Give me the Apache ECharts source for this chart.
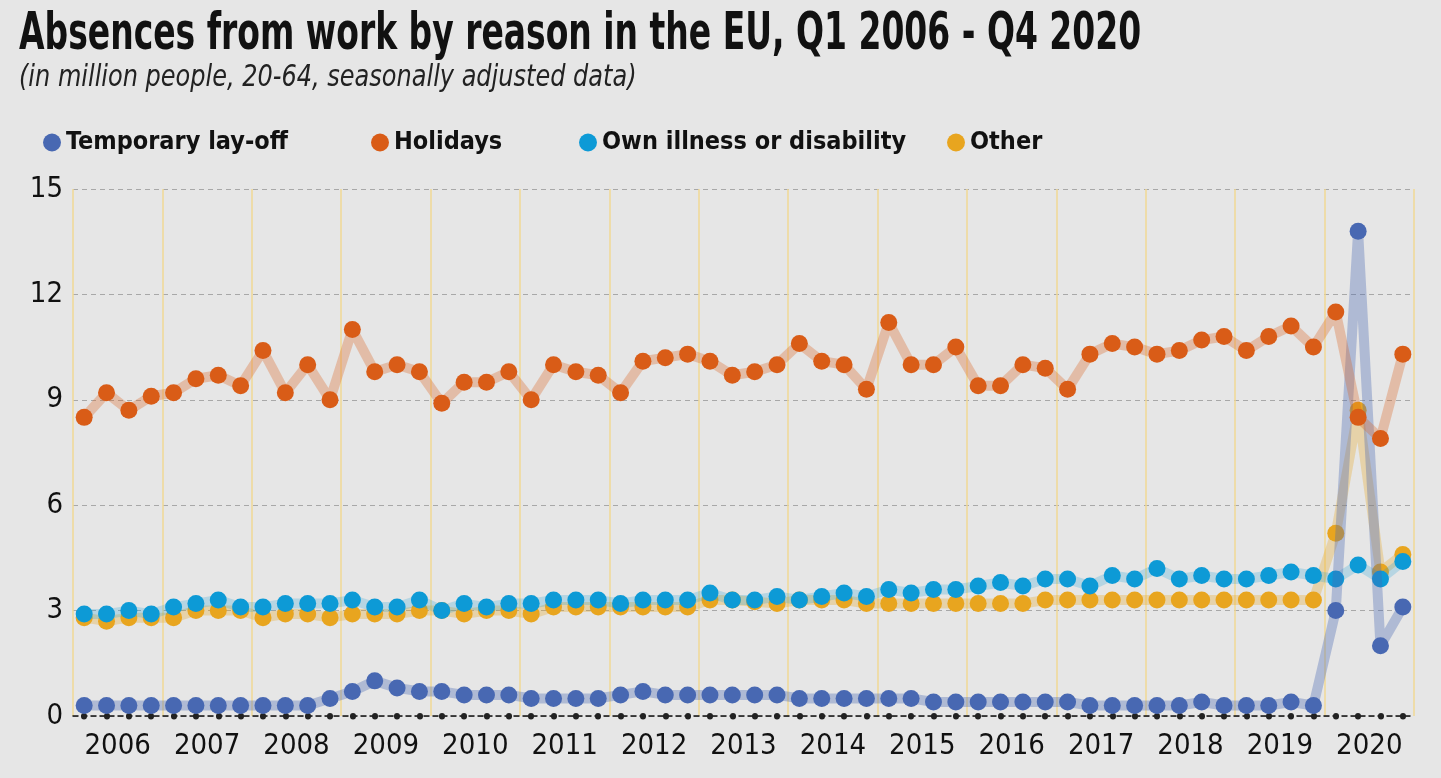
<!DOCTYPE html>
<html>
<head>
<meta charset="utf-8">
<script src="https://cdn.jsdelivr.net/npm/echarts@6/dist/echarts.min.js"></script>
<style>
  html, body { margin: 0; padding: 0; background: #e6e6e6; }
  #chart { width: 1441px; height: 778px; }
</style>
</head>
<body>
<div id="chart"></div>
<script>
// years shown on the axis, one band of four quarters each
const years = ['2006','2007','2008','2009','2010','2011','2012','2013','2014','2015','2016','2017','2018','2019','2020']
const quarters = years.flatMap(y => ['Q1','Q2','Q3','Q4'].map(q => q + ' ' + y))

// million people
const layOff = [
  0.3, 0.3, 0.3, 0.3,   0.3, 0.3, 0.3, 0.3,   0.3, 0.3, 0.3, 0.5,
  0.7, 1.0, 0.8, 0.7,   0.7, 0.6, 0.6, 0.6,   0.5, 0.5, 0.5, 0.5,
  0.6, 0.7, 0.6, 0.6,   0.6, 0.6, 0.6, 0.6,   0.5, 0.5, 0.5, 0.5,
  0.5, 0.5, 0.4, 0.4,   0.4, 0.4, 0.4, 0.4,   0.4, 0.3, 0.3, 0.3,
  0.3, 0.3, 0.4, 0.3,   0.3, 0.3, 0.4, 0.3,   3.0, 13.8, 2.0, 3.1
]
const holidays = [
  8.5, 9.2, 8.7, 9.1,   9.2, 9.6, 9.7, 9.4,   10.4, 9.2, 10.0, 9.0,
  11.0, 9.8, 10.0, 9.8, 8.9, 9.5, 9.5, 9.8,   9.0, 10.0, 9.8, 9.7,
  9.2, 10.1, 10.2, 10.3, 10.1, 9.7, 9.8, 10.0, 10.6, 10.1, 10.0, 9.3,
  11.2, 10.0, 10.0, 10.5, 9.4, 9.4, 10.0, 9.9, 9.3, 10.3, 10.6, 10.5,
  10.3, 10.4, 10.7, 10.8, 10.4, 10.8, 11.1, 10.5, 11.5, 8.5, 7.9, 10.3
]
const illness = [
  2.9, 2.9, 3.0, 2.9,   3.1, 3.2, 3.3, 3.1,   3.1, 3.2, 3.2, 3.2,
  3.3, 3.1, 3.1, 3.3,   3.0, 3.2, 3.1, 3.2,   3.2, 3.3, 3.3, 3.3,
  3.2, 3.3, 3.3, 3.3,   3.5, 3.3, 3.3, 3.4,   3.3, 3.4, 3.5, 3.4,
  3.6, 3.5, 3.6, 3.6,   3.7, 3.8, 3.7, 3.9,   3.9, 3.7, 4.0, 3.9,
  4.2, 3.9, 4.0, 3.9,   3.9, 4.0, 4.1, 4.0,   3.9, 4.3, 3.9, 4.4
]
const other = [
  2.8, 2.7, 2.8, 2.8,   2.8, 3.0, 3.0, 3.0,   2.8, 2.9, 2.9, 2.8,
  2.9, 2.9, 2.9, 3.0,   3.0, 2.9, 3.0, 3.0,   2.9, 3.1, 3.1, 3.1,
  3.1, 3.1, 3.1, 3.1,   3.3, 3.3, 3.25, 3.2,  3.3, 3.3, 3.3, 3.2,
  3.2, 3.2, 3.2, 3.2,   3.2, 3.2, 3.2, 3.3,   3.3, 3.3, 3.3, 3.3,
  3.3, 3.3, 3.3, 3.3,   3.3, 3.3, 3.3, 3.3,   5.2, 8.7, 4.1, 4.6
]
const yTicks = [0, 3, 6, 9, 12, 15]

const names = ['Temporary lay-off', 'Holidays', 'Own illness or disability', 'Other']
const colors = ['#4868b2', '#d95c17', '#0d9ad6', '#e8a51f']
const bands = ['rgba(72,104,178,0.35)', 'rgba(217,92,23,0.30)', 'rgba(13,154,214,0.22)', 'rgba(232,165,31,0.30)']

const font = "'DejaVu Sans Condensed', 'Liberation Sans Narrow', sans-serif"

const makeSeries = (i, data, z) => ({
  name: names[i],
  type: 'line',
  xAxisIndex: 0,
  data: data,
  z: z,
  symbol: 'circle',
  symbolSize: 17,
  showAllSymbol: true,
  itemStyle: { color: colors[i] },
  lineStyle: { color: bands[i], width: 10 },
  emphasis: { disabled: true }
})

const legendAt = (i, left) => ({
  data: [names[i]],
  left: left,
  top: 125,
  icon: 'circle',
  itemWidth: 18,
  itemHeight: 18,
  itemGap: 6,
  selectedMode: false,
  textStyle: { fontFamily: font, fontSize: 25, fontWeight: 'bold', color: '#111' }
})

const chart = echarts.init(document.getElementById('chart'))
chart.setOption({
  backgroundColor: '#e6e6e6',
  animation: false,
  // title drawn as text with a horizontal squeeze, to get the condensed look
  graphic: [
    {
      type: 'text',
      x: 19,
      y: 9,
      scaleX: 0.705,
      style: {
        text: 'Absences from work by reason in the EU, Q1 2006 - Q4 2020',
        font: "bold 52px 'DejaVu Sans Condensed', sans-serif",
        fill: '#111',
        textVerticalAlign: 'top'
      }
    },
    {
      type: 'text',
      x: 19,
      y: 63,
      scaleX: 0.89,
      style: {
        text: '(in million people, 20-64, seasonally adjusted data)',
        font: "italic 30px 'DejaVu Sans Condensed', sans-serif",
        fill: '#222',
        textVerticalAlign: 'top'
      }
    }
  ],
  legend: [legendAt(0, 38), legendAt(1, 366), legendAt(2, 574), legendAt(3, 942)],
  grid: { left: 73, right: 27, top: 189, bottom: 62 },
  xAxis: [
    {
      type: 'category',
      data: quarters,
      boundaryGap: true,
      axisLine: { show: true, lineStyle: { color: '#111', type: [5, 4], width: 1.5 } },
      axisTick: { show: true, interval: 0, alignWithLabel: true, length: 0.5, lineStyle: { color: '#222', width: 6, cap: 'round' } },
      axisLabel: { show: false },
      splitLine: { show: false }
    },
    {
      type: 'category',
      data: years,
      position: 'bottom',
      boundaryGap: true,
      axisLine: { show: false },
      axisTick: { show: false },
      axisLabel: { interval: 0, margin: 16, fontFamily: font, fontSize: 29, color: '#111' },
      splitLine: { show: true, interval: 0, lineStyle: { color: '#f0d995', width: 1.5 } }
    }
  ],
  yAxis: {
    type: 'value',
    min: yTicks[0],
    max: yTicks[yTicks.length - 1],
    interval: 3,
    axisLine: { show: false },
    axisTick: { show: false },
    axisLabel: { margin: 10, fontFamily: font, fontSize: 29, color: '#111' },
    splitLine: { lineStyle: { color: '#a8a8a8', type: [5, 4], width: 1 } }
  },
  series: [
    makeSeries(3, other, 2),
    makeSeries(2, illness, 3),
    makeSeries(0, layOff, 4),
    makeSeries(1, holidays, 5)
  ]
})
</script>
</body>
</html>
